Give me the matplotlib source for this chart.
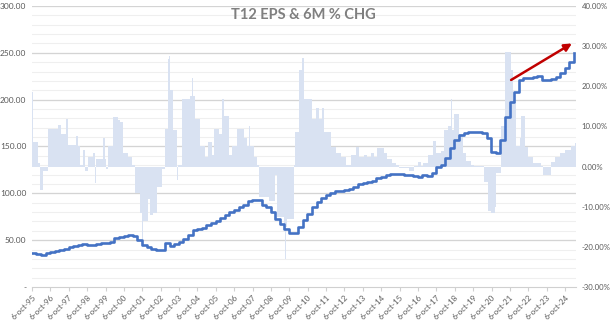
import numpy as np
import matplotlib.pyplot as plt
from matplotlib.ticker import FixedLocator, FuncFormatter

plt.rcParams['font.family'] = ['Lato', 'DejaVu Sans']
plt.rcParams['axes.unicode_minus'] = False

# trailing 12m EPS, quarterly (first point Q4 1995)
eps_start = 1995.75
eps = [36,
       35.5, 34, 36, 37.5,
       38.5, 39.5, 41, 43,
       44, 45, 45.5, 45,
       44.5, 45.5, 47, 47,
       48, 52, 53.5, 54.5,
       55.5, 54, 50, 45,
       43, 41, 39.5, 39.5,
       47, 44, 46, 48,
       51, 56, 61, 62,
       63.5, 66, 68, 70.5,
       74, 77, 80, 82,
       85, 88, 92, 93,
       93, 88, 85, 80,
       73, 67, 62, 58,
       58, 64, 72, 78,
       85, 91, 95, 98,
       100.5, 102.5, 103, 104,
       105, 107, 110, 111.5,
       112, 113.5, 116, 117.5,
       119.5, 120.5, 120.5, 120.5,
       120, 119.5, 118, 117.5,
       120, 118, 122, 128,
       130, 138, 148, 157,
       162, 164.5, 165.5, 165.5,
       165, 164.5, 159, 144,
       143, 157, 181.5, 197.5,
       208, 221, 223, 223.5,
       224, 225, 221, 221,
       222, 224, 228, 233.5,
       240, 250]

# 6 month % change: each value holds from its start date to the next one
chg_start = [1995.76, 1995.82, 1996.09, 1996.20, 1996.36, 1996.63, 1997.18, 1997.34,
             1997.61, 1997.72, 1998.16, 1998.27, 1998.38, 1998.54, 1998.65, 1998.81,
             1999.08, 1999.19, 1999.25, 1999.63, 1999.74, 1999.79, 1999.90, 2000.17,
             2000.44, 2000.55, 2000.72, 2000.99, 2001.21, 2001.37, 2001.64, 2001.75,
             2001.80, 2002.08, 2002.18, 2002.35, 2002.57, 2002.84, 2003.00, 2003.16,
             2003.22, 2003.27, 2003.44, 2003.65, 2003.71, 2003.93, 2004.36, 2004.47,
             2004.52, 2004.63, 2004.90, 2005.18, 2005.34, 2005.56, 2005.67, 2005.94,
             2006.10, 2006.21, 2006.48, 2006.65, 2006.92, 2007.30, 2007.46, 2007.57,
             2007.62, 2007.84, 2008.01, 2008.11, 2008.66, 2008.98, 2009.09, 2009.47,
             2009.53, 2009.58, 2009.64, 2010.02, 2010.07, 2010.29, 2010.45, 2010.56,
             2011.00, 2011.22, 2011.38, 2011.54, 2011.65, 2012.03, 2012.30, 2012.58,
             2012.85, 2013.12, 2013.39, 2013.56, 2013.83, 2013.99, 2014.21, 2014.37,
             2014.53, 2014.92, 2015.08, 2015.35, 2015.57, 2015.73, 2016.28, 2016.55,
             2016.77, 2016.93, 2017.04, 2017.31, 2017.58, 2017.74, 2018.02, 2018.18,
             2018.40, 2018.56, 2018.62, 2018.72, 2019.00, 2019.21, 2019.38, 2019.65,
             2019.81, 2020.36, 2020.57, 2020.74, 2020.95, 2021.01, 2021.28, 2021.50,
             2021.83, 2021.93, 2022.10, 2022.32, 2022.37, 2022.59, 2022.75, 2023.02,
             2023.46, 2023.57, 2024.00, 2024.22, 2024.49, 2024.76, 2025.09, 2025.31]
chg_pct = [18.5, 6, 1, -5.75, -1, 9.25, 10.3, 8,
           11.75, 5.25, 7.5, 5, 0.3, 4, -1, 2.5,
           3.5, -4, 2, 7, 2, -0.5, 5, 12.25,
           11.5, 11, 3.5, 2.5, 0.3, -6.5, -11.5, -18,
           -13.5, -8, -12, -11.5, -5, -0.5, 9.25, 26.75,
           27.5, 19, 9, -3.25, 0.5, 16.75, 17.5, 22,
           17.5, 11.75, 5, 2.5, 6, 3, 9.25, 8,
           16.75, 12.5, 3, 5, 9.25, 7, 5, 10,
           5, 2.5, 0.3, -7.5, -8.6, -2, -12.5, -15,
           -23, -15, -13, 0.3, 8.5, 24, 27, 16.75,
           11.75, 14.5, 11.75, 14.5, 8.5, 4.75, 3.5, 2.5,
           0.5, 3, 4.75, 2.5, 3, 2.5, 3.5, 2.5,
           4.5, 3.5, 2, 1, 0.3, -0.3, -1, 0.2,
           1.2, 0.2, 1, 3, 6.25, 3.5, 3.9, 9,
           10, 16.75, 9, 13, 8, 3.5, 1.5, 0.3,
           0.1, -3.75, -11, -11.5, -10, -1.5, 10, 28.5,
           24, 16, 5, 7, 12.5, 4.75, 2.5, 1,
           0.2, -2, 1.2, 2.5, 3.5, 4, 5, 5.75]
chg_end = 2025.36

tick_years = list(range(1995, 2025))
arrow_from = (2021.83, 221)
arrow_to = (2025.14, 260)

fig = plt.figure(figsize=(6.11, 3.23), dpi=100)
ax = fig.add_axes([0.0524, 0.1115, 0.8903, 0.870])
ax2 = ax.twinx()
ax.set_zorder(2)
ax.patch.set_visible(False)

ax.set_xlim(1995.764, chg_end)
ax.set_ylim(0, 300)
ax2.set_ylim(-30, 40)

# bars on the right scale
starts = np.array(chg_start)
widths = np.diff(np.append(starts, chg_end))
ax2.bar(starts, chg_pct, width=widths, align='edge', color='#d9e2f2',
        linewidth=0, zorder=2)

# gridlines sit behind the bars, spaced by the left scale
left_to_right = lambda v: -30 + v * 70 / 300
ax2.yaxis.set_minor_locator(FixedLocator([left_to_right(v) for v in range(0, 301, 10)]))
ax2.grid(True, which='minor', color='#efefef', lw=0.8, zorder=0)
for v in range(50, 301, 50):
    ax2.axhline(left_to_right(v), color='#d4d4d4', lw=0.9, zorder=1)
ax2.set_axisbelow(True)

# EPS line
qx = eps_start + 0.25 * np.arange(len(eps))
ax.plot(qx, eps, drawstyle='steps-post', color='#4472c4', lw=1.9, zorder=3)

ax.annotate('', xy=arrow_to, xytext=arrow_from,
            arrowprops=dict(arrowstyle='-|>', color='#c00000', lw=1.8,
                            mutation_scale=11, shrinkA=0, shrinkB=0))

# axes styling
for a in (ax, ax2):
    for s in a.spines.values():
        s.set_visible(False)
ax.spines['bottom'].set_visible(True)
ax.spines['bottom'].set_color('#d0d0d0')

ax.set_yticks(range(0, 301, 50))
ax.yaxis.set_major_formatter(FuncFormatter(lambda v, p: '-' if v == 0 else f'{v:.2f}'))
ax.tick_params(axis='y', length=0, pad=4, labelsize=6, labelcolor='#595959')
ax2.set_yticks(range(-30, 41, 10))
ax2.yaxis.set_major_formatter(FuncFormatter(lambda v, p: f'{v:.2f}%'))
ax2.tick_params(axis='y', which='both', length=0, pad=4, labelsize=5.6, labelcolor='#595959')

ax.set_xticks([y + 0.764 for y in tick_years])
ax.set_xticklabels([f'6-oct-{y % 100:02d}' for y in tick_years], rotation=45,
                   ha='right', va='top', rotation_mode='anchor')
ax.tick_params(axis='x', length=3, color='#d0d0d0', pad=2, labelsize=5.8,
               labelcolor='#595959')

fig.text(0.496, 0.954, 'T12 EPS & 6M % CHG', ha='center', va='center',
         fontsize=10.5, fontweight='bold', color='#7f7f7f')

fig.savefig('out.png', dpi=100)
